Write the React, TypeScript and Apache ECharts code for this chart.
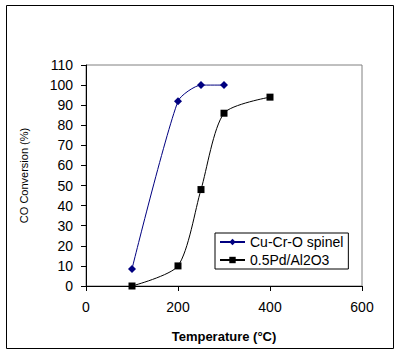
import React, { useEffect, useRef } from "react";
import * as echarts from "echarts";

const spinelTemps = [100, 200, 250, 300];
const spinelConv = [8.5, 92, 100, 100];
const pdTemps = [100, 200, 250, 300, 400];
const pdConv = [0, 10, 48, 86, 94];
const xTicks = { min: 0, max: 600, interval: 200 };
const yTicks = { min: 0, max: 110, interval: 10 };

export default function App() {
  const ref = useRef<HTMLDivElement>(null);
  useEffect(() => {
    if (!ref.current) return;
    const chart = echarts.init(ref.current, undefined, { renderer: "svg" });
    const font = "Arial, 'Liberation Sans', sans-serif";
    chart.setOption({
      animation: false,
      backgroundColor: "#ffffff",
      textStyle: { fontFamily: font },
      graphic: [
        {
          type: "rect",
          shape: { x: 6.5, y: 5.5, width: 387, height: 343 },
          style: { fill: "none", stroke: "#000", lineWidth: 1 },
          silent: true,
        },
      ],
      grid: {
        left: 86,
        top: 65,
        width: 276,
        height: 221,
        show: true,
        borderColor: "#808080",
        borderWidth: 1,
        backgroundColor: "transparent",
      },
      legend: {
        left: 215,
        top: 233,
        orient: "vertical",
        itemGap: 4,
        itemWidth: 25,
        itemHeight: 8,
        padding: [2, 5, 2, 4],
        borderColor: "#000",
        borderWidth: 1,
        backgroundColor: "#fff",
        textStyle: { fontFamily: font, fontSize: 14, color: "#000" },
        data: ["Cu-Cr-O spinel", "0.5Pd/Al2O3"],
      },
      xAxis: {
        type: "value",
        min: xTicks.min,
        max: xTicks.max,
        interval: xTicks.interval,
        name: "Temperature (°C)",
        nameLocation: "middle",
        nameGap: 44,
        nameTextStyle: { fontFamily: font, fontSize: 13, fontWeight: "bold", color: "#000" },
        axisLine: { lineStyle: { color: "#000", width: 1 } },
        axisTick: { show: true, length: 5, inside: false, lineStyle: { color: "#000" } },
        axisLabel: { fontFamily: font, fontSize: 14, color: "#000", margin: 14 },
        splitLine: { show: false },
      },
      yAxis: {
        type: "value",
        min: yTicks.min,
        max: yTicks.max,
        interval: yTicks.interval,
        name: "CO Conversion (%)",
        nameLocation: "middle",
        nameGap: 57,
        nameTextStyle: { fontFamily: font, fontSize: 11, color: "#000" },
        axisLine: { show: true, lineStyle: { color: "#000", width: 1 } },
        axisTick: { show: true, length: 5, inside: false, lineStyle: { color: "#000" } },
        axisLabel: { fontFamily: font, fontSize: 14, color: "#000", margin: 13 },
        splitLine: { show: false },
      },
      series: [
        {
          name: "Cu-Cr-O spinel",
          type: "line",
          smooth: 0.22,
          data: spinelTemps.map((t, i) => [t, spinelConv[i]]),
          symbol: "diamond",
          symbolSize: 8,
          itemStyle: { color: "#000080" },
          lineStyle: { color: "#000080", width: 1 },
        },
        {
          name: "0.5Pd/Al2O3",
          type: "line",
          smooth: 0.25,
          data: pdTemps.map((t, i) => [t, pdConv[i]]),
          symbol: "rect",
          symbolSize: 7,
          itemStyle: { color: "#000" },
          lineStyle: { color: "#000", width: 1 },
        },
      ],
    });
    return () => chart.dispose();
  }, []);
  return (
    <div
      ref={ref}
      style={{ position: "fixed", left: 0, top: 0, width: 400, height: 354 }}
    />
  );
}
